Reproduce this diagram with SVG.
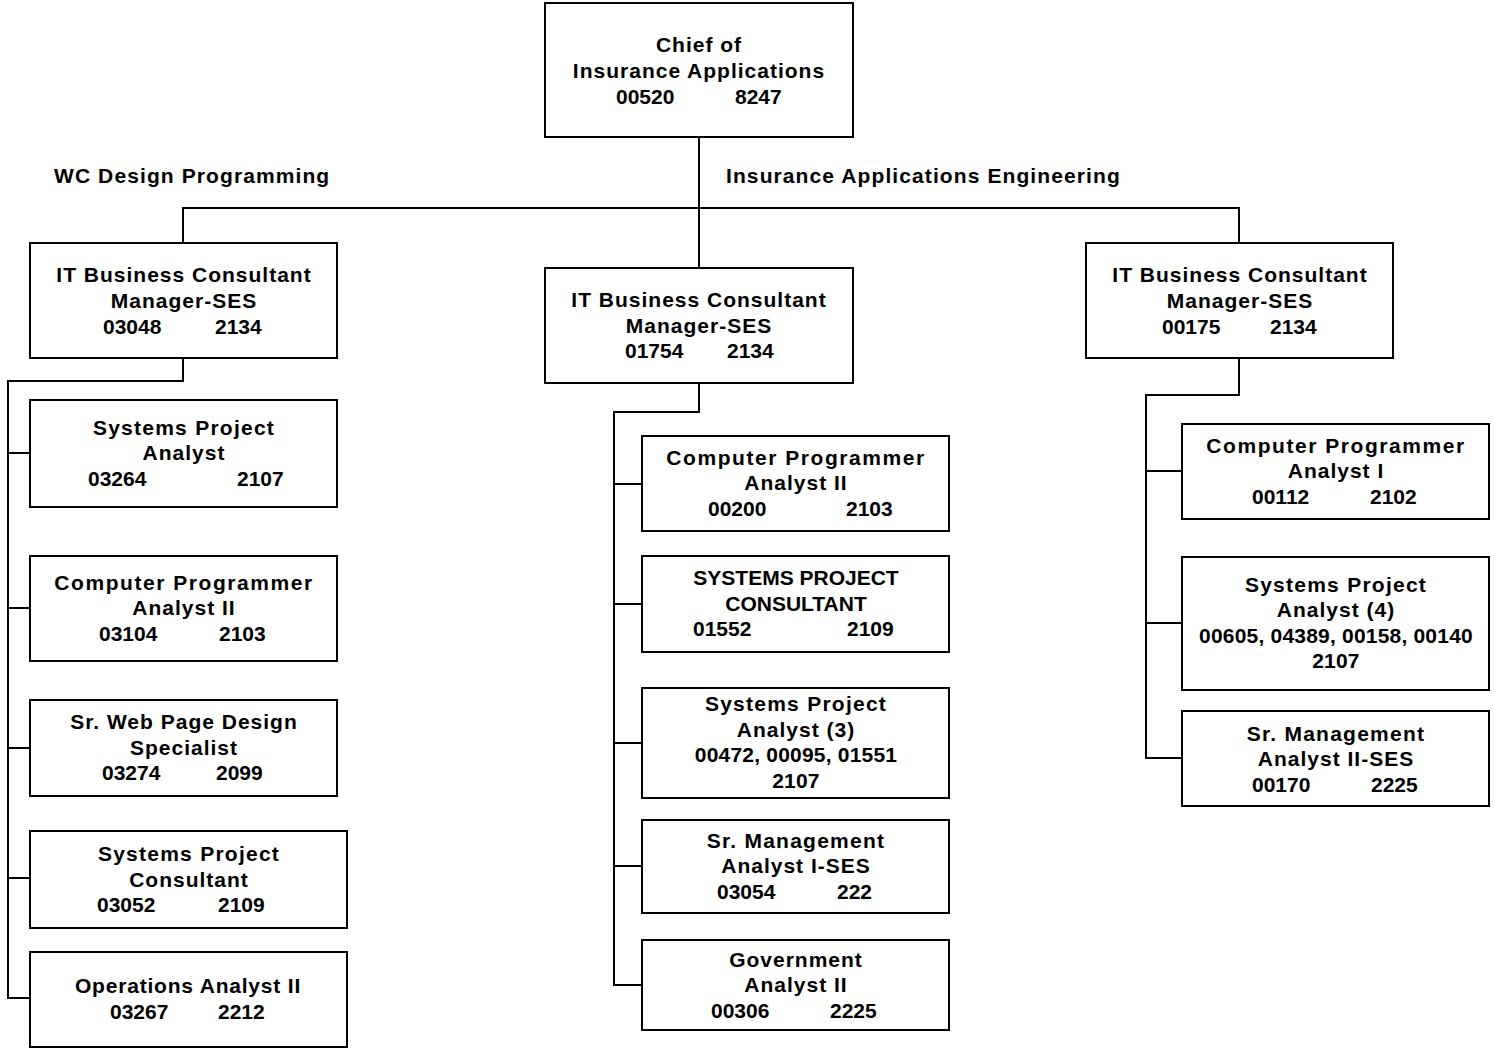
<svg xmlns="http://www.w3.org/2000/svg" width="1494" height="1048" viewBox="0 0 1494 1048">
<style>
  .box { fill: #fff; stroke: #000; stroke-width: 2; }
  .wire { fill: none; stroke: #000; stroke-width: 2; }
  text { font-family: "Liberation Sans", Arial, sans-serif; font-weight: bold; font-size: 21px; fill: #000; }
  .t { text-anchor: middle; letter-spacing: 1px; }
  .w { text-anchor: middle; letter-spacing: 1.55px; }
  .s { text-anchor: middle; letter-spacing: 1.25px; }
  .c { text-anchor: middle; letter-spacing: 0; }
  .o { text-anchor: middle; letter-spacing: 0.8px; }
  .n { letter-spacing: 0; }
  .nc { text-anchor: middle; letter-spacing: 0.2px; }
  .lbl { letter-spacing: 1.1px; }
</style>
<rect width="1494" height="1048" fill="#fff"/>

<g id="connectors">
  <path class="wire" d="M699,137 V268 M183,243 V208 H1239 V243"/>
  <path class="wire" d="M183,358 V381 H8 V998 H30 M8,453 H30 M8,608 H30 M8,748 H30 M8,878 H30"/>
  <path class="wire" d="M699,383 V412 H614 V985 H642 M614,484 H642 M614,604 H642 M614,743 H642 M614,866 H642"/>
  <path class="wire" d="M1239,358 V395 H1146 V758 H1182 M1146,471 H1182 M1146,623 H1182"/>
</g>

<g id="labels">
  <text class="lbl" x="54" y="183">WC Design Programming</text>
  <text class="lbl" x="726" y="183">Insurance Applications Engineering</text>
</g>

<g id="chief">
  <rect class="box" x="545" y="3" width="308" height="134"/>
  <text class="t" x="699" y="52">Chief of</text>
  <text class="t" x="699" y="78">Insurance Applications</text>
  <text class="n" x="616" y="104">00520</text>
  <text class="n" x="735" y="104">8247</text>
</g>

<g id="mgr-left">
  <rect class="box" x="30" y="243" width="307" height="115"/>
  <text class="t" x="184" y="282">IT Business Consultant</text>
  <text class="t" x="184" y="308">Manager-SES</text>
  <text class="n" x="103" y="334">03048</text>
  <text class="n" x="215" y="334">2134</text>
</g>

<g id="mgr-mid">
  <rect class="box" x="545" y="268" width="308" height="115"/>
  <text class="t" x="699" y="307">IT Business Consultant</text>
  <text class="t" x="699" y="333">Manager-SES</text>
  <text class="n" x="625" y="358">01754</text>
  <text class="n" x="727" y="358">2134</text>
</g>

<g id="mgr-right">
  <rect class="box" x="1086" y="243" width="307" height="115"/>
  <text class="t" x="1240" y="282">IT Business Consultant</text>
  <text class="t" x="1240" y="308">Manager-SES</text>
  <text class="n" x="1162" y="334">00175</text>
  <text class="n" x="1270" y="334">2134</text>
</g>

<g id="l-spa">
  <rect class="box" x="30" y="400" width="307" height="107"/>
  <text class="s" x="184" y="435">Systems Project</text>
  <text class="t" x="184" y="460">Analyst</text>
  <text class="n" x="88" y="486">03264</text>
  <text class="n" x="237" y="486">2107</text>
</g>

<g id="l-cpa">
  <rect class="box" x="30" y="556" width="307" height="105"/>
  <text class="w" x="184" y="590">Computer Programmer</text>
  <text class="t" x="184" y="615">Analyst II</text>
  <text class="n" x="99" y="641">03104</text>
  <text class="n" x="219" y="641">2103</text>
</g>

<g id="l-web">
  <rect class="box" x="30" y="700" width="307" height="96"/>
  <text class="t" x="184" y="729">Sr. Web Page Design</text>
  <text class="t" x="184" y="755">Specialist</text>
  <text class="n" x="102" y="780">03274</text>
  <text class="n" x="216" y="780">2099</text>
</g>

<g id="l-spc">
  <rect class="box" x="30" y="831" width="317" height="97"/>
  <text class="s" x="189" y="861">Systems Project</text>
  <text class="t" x="189" y="887">Consultant</text>
  <text class="n" x="97" y="912">03052</text>
  <text class="n" x="218" y="912">2109</text>
</g>

<g id="l-ops">
  <rect class="box" x="30" y="952" width="317" height="95"/>
  <text class="o" x="188" y="993">Operations Analyst II</text>
  <text class="n" x="110" y="1019">03267</text>
  <text class="n" x="218" y="1019">2212</text>
</g>

<g id="m-cpa">
  <rect class="box" x="642" y="436" width="307" height="95"/>
  <text class="w" x="796" y="465">Computer Programmer</text>
  <text class="t" x="796" y="490">Analyst II</text>
  <text class="n" x="708" y="516">00200</text>
  <text class="n" x="846" y="516">2103</text>
</g>

<g id="m-spc">
  <rect class="box" x="642" y="556" width="307" height="96"/>
  <text class="c" x="796" y="585">SYSTEMS PROJECT</text>
  <text class="c" x="796" y="611">CONSULTANT</text>
  <text class="n" x="693" y="636">01552</text>
  <text class="n" x="847" y="636">2109</text>
</g>

<g id="m-spa">
  <rect class="box" x="642" y="688" width="307" height="110"/>
  <text class="s" x="796" y="711">Systems Project</text>
  <text class="t" x="796" y="737">Analyst (3)</text>
  <text class="nc" x="796" y="762">00472, 00095, 01551</text>
  <text class="nc" x="796" y="788">2107</text>
</g>

<g id="m-sma">
  <rect class="box" x="642" y="820" width="307" height="93"/>
  <text class="s" x="796" y="848">Sr. Management</text>
  <text class="t" x="796" y="873">Analyst I-SES</text>
  <text class="n" x="717" y="899">03054</text>
  <text class="n" x="837" y="899">222</text>
</g>

<g id="m-gov">
  <rect class="box" x="642" y="940" width="307" height="90"/>
  <text class="t" x="796" y="967">Government</text>
  <text class="t" x="796" y="992">Analyst II</text>
  <text class="n" x="711" y="1018">00306</text>
  <text class="n" x="830" y="1018">2225</text>
</g>

<g id="r-cpa">
  <rect class="box" x="1182" y="424" width="307" height="95"/>
  <text class="w" x="1336" y="453">Computer Programmer</text>
  <text class="t" x="1336" y="478">Analyst I</text>
  <text class="n" x="1252" y="504">00112</text>
  <text class="n" x="1370" y="504">2102</text>
</g>

<g id="r-spa">
  <rect class="box" x="1182" y="557" width="307" height="133"/>
  <text class="s" x="1336" y="592">Systems Project</text>
  <text class="t" x="1336" y="617">Analyst (4)</text>
  <text class="nc" x="1336" y="643">00605, 04389, 00158, 00140</text>
  <text class="nc" x="1336" y="668">2107</text>
</g>

<g id="r-sma">
  <rect class="box" x="1182" y="711" width="307" height="95"/>
  <text class="s" x="1336" y="741">Sr. Management</text>
  <text class="t" x="1336" y="766">Analyst II-SES</text>
  <text class="n" x="1252" y="792">00170</text>
  <text class="n" x="1371" y="792">2225</text>
</g>
</svg>
